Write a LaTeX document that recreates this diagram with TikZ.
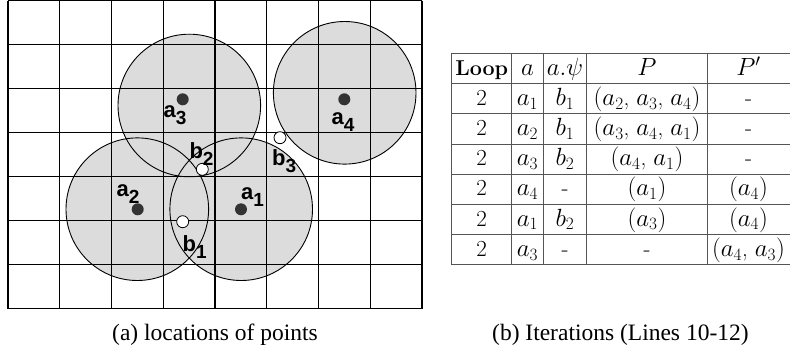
\documentclass[tikz,border=0pt]{standalone}
\usepackage{fontspec}
\newfontfamily\capfont{Liberation Serif}
\newfontfamily\lblfont{Liberation Sans}
\definecolor{zonegray}{HTML}{DCDCDC}
\definecolor{dotgray}{HTML}{333333}
\definecolor{tablegray}{HTML}{555555}
\newcommand{\lblsub}[2]{#1\raisebox{-7pt}{\fontsize{19}{19}\selectfont #2}}
\begin{document}
\begin{tikzpicture}[x=1pt,y=-1pt,
  zone/.style={circle,fill=zonegray,draw=none,inner sep=0pt,minimum size=142.6pt},
  zoneedge/.style={draw=black,line width=0.9pt},
  gridline/.style={draw=black,line width=1.4pt},
  site/.style={circle,fill=dotgray,inner sep=0pt,minimum size=12pt},
  probe/.style={circle,fill=white,draw=black,line width=0.8pt,inner sep=0pt,minimum size=12pt},
  lbl/.style={anchor=base west,inner sep=0pt,font=\lblfont\bfseries\fontsize{22}{22}\selectfont},
  tline/.style={draw=tablegray,line width=1.1pt},
  cell/.style={anchor=base,inner sep=0pt,font=\fontsize{23}{27}\selectfont},
  captext/.style={anchor=base,inner sep=0pt,font=\capfont\fontsize{23.5}{28}\selectfont}]
\useasboundingbox (0,0) rectangle (790,350);

% --- (a) locations of points ---
\node[zone] (c3) at (189.3,105.5) {};
\node[zone] (c4) at (344.7,92.8) {};
\node[zone] (c2) at (137.3,209.2) {};
\node[zone] (c1) at (241.2,209.2) {};

\foreach \k in {0,...,8}
  \draw[gridline] ({8+51.75*\k},0.7) -- ({8+51.75*\k},308.7);
\foreach \k in {0,...,7}
  \draw[gridline] (8,{0.7+44*\k}) -- (422,{0.7+44*\k});

\foreach \c in {c1,c2,c3,c4}
  \draw[zoneedge] (\c.center) circle[radius=71.3pt];

\node[site] (a3) at (182.7,99.3) {};
\node[site] (a4) at (344.3,99.3) {};
\node[site] (a2) at (137.7,209.3) {};
\node[site] (a1) at (241,209.3) {};
\node[probe] (b1) at (182.7,221.7) {};
\node[probe] (b2) at (202.3,169.3) {};
\node[probe] (b3) at (280,137.7) {};

\node[lbl] (la3) at (163.5,117.3) {\lblsub{a}{3}};
\node[lbl] (la4) at (331.5,125) {\lblsub{a}{4}};
\node[lbl] (la2) at (116.5,196.7) {\lblsub{a}{2}};
\node[lbl] (la1) at (241,200) {\lblsub{a}{1}};
\node[lbl] (lb2) at (189.3,158.3) {\lblsub{b}{2}};
\node[lbl] (lb3) at (272,165) {\lblsub{b}{3}};
\node[lbl] (lb1) at (182.5,251.7) {\lblsub{b}{1}};

\node[captext] (capa) at (215,340) {(a) locations of points};

% --- (b) table ---
\foreach \x in {451.7,511.7,543.3,586.7,707.3,791}
  \draw[tline] (\x,53.5) -- (\x,264.9);
\foreach \k in {0,...,7}
  \draw[tline] (451.7,{53.5+30.2*\k}) -- (791,{53.5+30.2*\k});

\node[cell] (h1) at (481.7,75.2) {\fontsize{21.5}{25}\selectfont\textbf{Loop}};
\node[cell] (h2) at (527.5,75.2) {$a$};
\node[cell] (h3) at (565,75.2) {$a.\psi$};
\node[cell] (h4) at (647,75.2) {$P$};
\node[cell] (h5) at (748.5,75.2) {$P'$};

\foreach \r/\A/\B/\C/\D/\E in {
  1/2/$a_1$/$b_1$/{$(a_2$, $a_3$, $a_4)$}/-,
  2/2/$a_2$/$b_1$/{$(a_3$, $a_4$, $a_1)$}/-,
  3/2/$a_3$/$b_2$/{$(a_4$, $a_1)$}/-,
  4/2/$a_4$/-/{$(a_1)$}/{$(a_4)$},
  5/2/$a_1$/$b_2$/{$(a_3)$}/{$(a_4)$},
  6/2/$a_3$/-/-/{$(a_4$, $a_3)$}}{
  \pgfmathsetmacro{\yb}{75.2+30.2*\r}
  \node[cell] (r\r c1) at (481.7,\yb) {\A};
  \node[cell] (r\r c2) at (527.5,\yb) {\B};
  \node[cell] (r\r c3) at (565,\yb) {\C};
  \node[cell] (r\r c4) at (647,\yb) {\D};
  \node[cell] (r\r c5) at (748.5,\yb) {\E};
}

\node[captext] (capb) at (620.4,340) {(b) Iterations (Lines 10-12)};
\end{tikzpicture}
\end{document}
